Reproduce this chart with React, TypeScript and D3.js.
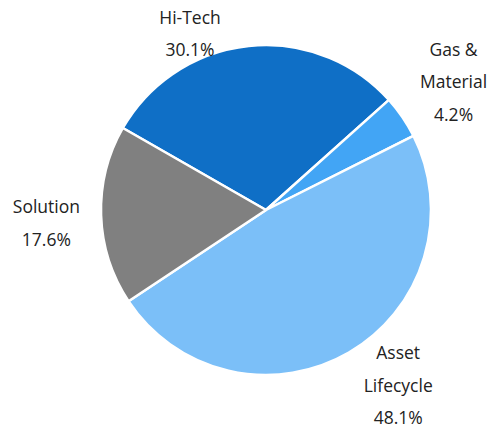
import React from "react";
import * as d3 from "d3";

const categories = ["Hi-Tech", "Gas & Material", "Asset Lifecycle", "Solution"];
const values = [30.1, 4.2, 48.1, 17.6];
const labelLines = [["Hi-Tech"], ["Gas &", "Material"], ["Asset", "Lifecycle"], ["Solution"]];
const colors = ["#0F6FC6", "#42A5F5", "#7BBFF8", "#808080"];

// layout (not data)
const W = 489;
const H = 430;
const cx = 266;
const cy = 210;
const R = 165;
const startDeg = -60.2;
const labelLayout = [
  { shift: -17.3, r: 192 },
  { shift: 0, r: 227 },
  { shift: -6.8, r: 220 },
  { shift: -1.6, r: 220 },
];
const lineH = 32.5;
const fontSize = 17.5;

export default function App() {
  const toRad = (d: number) => (d * Math.PI) / 180;
  const pie = d3
    .pie<number>()
    .sort(null)
    .value((d) => d)
    .startAngle(toRad(startDeg))
    .endAngle(toRad(startDeg + 360));
  const arcs = pie(values);
  const arc = d3.arc<d3.PieArcDatum<number>>().innerRadius(0).outerRadius(R);
  const total = d3.sum(values);
  const fmt = d3.format(".1f");

  return (
    <svg
      width={W}
      height={H}
      style={{ position: "absolute", left: 0, top: 0 }}
      fontFamily="'Open Sans', 'Noto Sans', sans-serif"
    >
      <g transform={`translate(${cx},${cy})`}>
        {arcs.map((a, i) => (
          <path key={categories[i]} d={arc(a) || ""} fill={colors[i]} stroke="#fff" strokeWidth={2.5} strokeLinejoin="round" />
        ))}
        {arcs.map((a, i) => {
          const mid = (a.startAngle + a.endAngle) / 2 + toRad(labelLayout[i].shift);
          const lx = labelLayout[i].r * Math.sin(mid);
          const ly = -labelLayout[i].r * Math.cos(mid);
          const lines = [...labelLines[i], `${fmt((values[i] / total) * 100)}%`];
          const n = lines.length;
          return (
            <text key={categories[i]} x={lx} y={ly} textAnchor="middle" fontSize={fontSize} fill="#222">
              {lines.map((t, j) => (
                <tspan key={j} x={lx} y={ly + (j - (n - 1) / 2) * lineH + fontSize * 0.35}>
                  {t}
                </tspan>
              ))}
            </text>
          );
        })}
      </g>
    </svg>
  );
}
